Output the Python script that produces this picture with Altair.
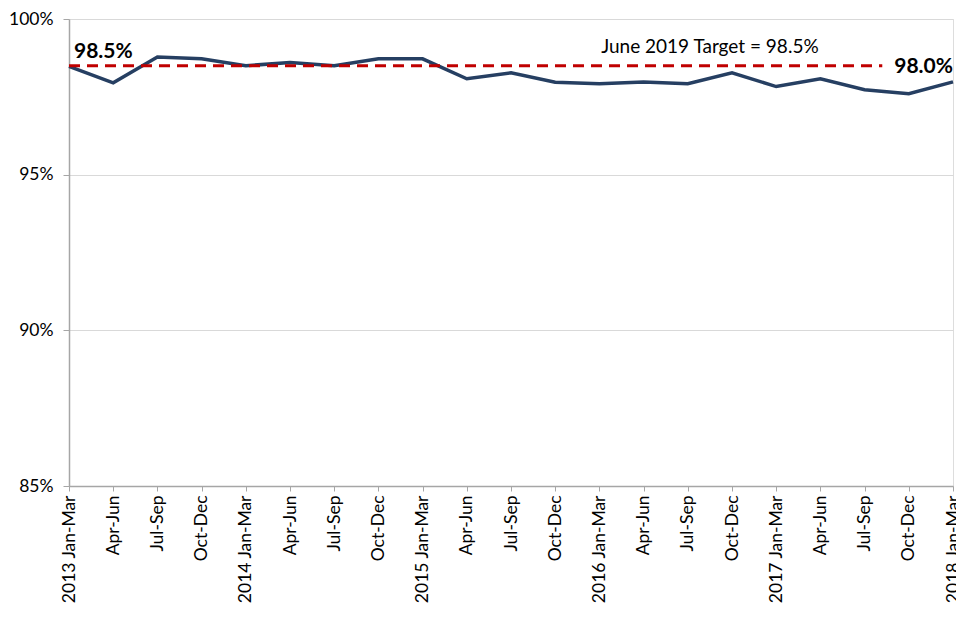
import altair as alt
import pandas as pd

quarters = ["2013 Jan-Mar", "Apr-Jun", "Jul-Sep", "Oct-Dec",
            "2014 Jan-Mar", "Apr-Jun", "Jul-Sep", "Oct-Dec",
            "2015 Jan-Mar", "Apr-Jun", "Jul-Sep", "Oct-Dec",
            "2016 Jan-Mar", "Apr-Jun", "Jul-Sep", "Oct-Dec",
            "2017 Jan-Mar", "Apr-Jun", "Jul-Sep", "Oct-Dec",
            "2018 Jan-Mar"]
values = [98.48, 97.95, 98.78, 98.72, 98.50, 98.60, 98.50, 98.72, 98.72,
          98.08, 98.27, 97.97, 97.92, 97.98, 97.92, 98.27, 97.83, 98.08,
          97.73, 97.60, 97.98]

target_value = 98.5
target_start = 0
target_end = 18.4
target_label = "June 2019 Target = 98.5%"
target_label_pos = 14.5

end_labels = ["98.5%", "98.0%"]
end_label_pos = [0, 20]
end_label_vals = [98.5, 98.0]

FONT = "Lato"

df = pd.DataFrame({"i": list(range(len(quarters))), "q": quarters, "v": values})
label_expr = "[" + ",".join("'" + q + "'" for q in quarters) + "][datum.value]"

x_enc = alt.X("i:Q", scale=alt.Scale(domain=[0, len(quarters) - 1], nice=False, zero=False),
              axis=alt.Axis(values=list(range(len(quarters))), labelExpr=label_expr,
                            labelAngle=270, labelAlign="right", labelBaseline="middle",
                            labelPadding=4, tickSize=5, tickColor="#a6a6a6",
                            domainColor="#a6a6a6", domainWidth=1.5, grid=False,
                            labelFont=FONT, labelFontSize=17.5, labelColor="#000000",
                            title=None, labelOverlap=False, labelBound=False))
y_scale = alt.Scale(domain=[85, 100], nice=False, zero=False)

line = alt.Chart(df).mark_line(color="#263F62", strokeWidth=3.5, clip=False).encode(
    x=x_enc,
    y=alt.Y("v:Q", scale=y_scale,
            axis=alt.Axis(values=[85, 90, 95, 100], labelExpr="datum.value + '%'",
                          tickSize=6, tickColor="#a6a6a6", domainColor="#a6a6a6",
                          domainWidth=1.5, gridColor="#d9d9d9", gridWidth=1,
                          labelFont=FONT, labelFontSize=17.5, labelColor="#000000",
                          labelPadding=10, title=None)),
)

tdf = pd.DataFrame({"x": [target_start], "x2": [target_end], "y": [target_value]})
target = alt.Chart(tdf).mark_rule(color="#C00000", strokeWidth=3, strokeDash=[11, 7]).encode(
    x="x:Q", x2="x2:Q", y="y:Q")

ldf = pd.DataFrame({"x": [target_label_pos], "y": [target_value], "t": [target_label]})
tlabel = alt.Chart(ldf).mark_text(font=FONT, fontSize=19, color="#000000", dy=-19,
                                  align="center", baseline="middle").encode(
    x="x:Q", y="y:Q", text="t:N")

edf = pd.DataFrame({"x": end_label_pos, "y": end_label_vals, "t": end_labels})
e1 = alt.Chart(edf.iloc[[0]]).mark_text(font=FONT, fontSize=21, fontWeight="bold",
                                         color="#000000", align="left", dx=5, dy=-14,
                                         baseline="middle").encode(x="x:Q", y="y:Q", text="t:N")
e2 = alt.Chart(edf.iloc[[1]]).mark_text(font=FONT, fontSize=21, fontWeight="bold",
                                         color="#000000", align="right", dx=0, dy=-14,
                                         baseline="middle").encode(x="x:Q", y="y:Q", text="t:N")

chart = alt.layer(line, target, tlabel, e1, e2).properties(
    width=884, height=467,
    autosize=alt.AutoSizeParams(type="none"),
    padding={"left": 61, "top": 11, "right": 3, "bottom": 126},
).configure_view(stroke=None).configure(background="white")

chart.save("out.html", embed_options={"renderer": "svg", "actions": False})
